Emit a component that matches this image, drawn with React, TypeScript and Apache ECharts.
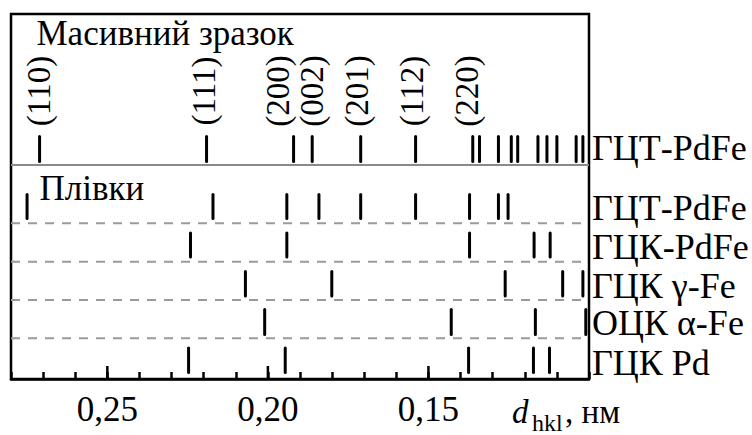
import React, { useEffect, useRef } from 'react';
import * as echarts from 'echarts';

// ---------- data ----------
const rowLabels = ['ГЦТ-PdFe', 'ГЦТ-PdFe', 'ГЦК-PdFe', 'ГЦК γ-Fe', 'ОЦК α-Fe', 'ГЦК Pd'];

// d_hkl, nm
const bulkFctPdFe = [0.2711, 0.2191, 0.192, 0.1862, 0.1711, 0.154, 0.1362, 0.1341, 0.1282, 0.1242, 0.1222, 0.1159, 0.1131, 0.11, 0.104, 0.1019];
const filmFctPdFe = [0.275, 0.2171, 0.1941, 0.1841, 0.1711, 0.154, 0.1372, 0.1282, 0.1252];
const filmFccPdFe = [0.2241, 0.1941, 0.1372, 0.1171, 0.1121];
const fccGammaFe = [0.207, 0.1801, 0.1261, 0.1082, 0.1019];
const bccAlphaFe = [0.201, 0.1429, 0.1167, 0.101];
const fccPd = [0.2247, 0.1946, 0.1375, 0.1173, 0.1123];

const rowsData = [bulkFctPdFe, filmFctPdFe, filmFccPdFe, fccGammaFe, bccAlphaFe, fccPd];

const millerLabels = ['(110)', '(111)', '(200)', '(002)', '(201)', '(112)', '(220)'];
const tickLabelValues = [0.25, 0.2, 0.15];

const titleBulk = 'Масивний зразок';
const titleFilms = 'Плівки';

// ---------- layout ----------
const FONT = 'Liberation Serif';
const GRID = { left: 11, top: 14, width: 578, height: 365 };
const X_MIN = 0.1;
const X_MAX = 0.28;
// y axis in pixel units from the top of the plot
const ROW_BANDS: [number, number][] = [
  [122.5, 147.5],
  [180.5, 204.5],
  [219, 243],
  [257.5, 282],
  [295.5, 320.5],
  [334, 358.5],
];
const SOLID_DIVIDER = 151;
const DASHED_DIVIDERS = [209.3, 247.7, 286, 324.3];
const MILLER_Y = 77;
const MILLER_SHIFT = [-1, -3, -16, 0, -4, -4, -6];
const ROW_LABEL_BASELINE = [160, 220, 259, 298, 335, 375];
const MAJOR_TICK_LEN = 13;

export default function App() {
  const ref = useRef<HTMLDivElement>(null);

  useEffect(() => {
    if (!ref.current) return;
    const chart = echarts.init(ref.current, undefined, { renderer: 'svg' });

    const barSeries = rowsData.map((vals, rowIdx) => ({
      type: 'custom',
      name: rowLabels[rowIdx],
      z: 5,
      data: vals.map((d) => [d, rowIdx]),
      encode: { x: 0, y: 1 },
      renderItem: (params: any, api: any) => {
        const d = api.value(0);
        const band = ROW_BANDS[rowIdx];
        const p1 = api.coord([d, band[0]]);
        const p2 = api.coord([d, band[1]]);
        return {
          type: 'line',
          shape: { x1: p1[0], y1: p1[1], x2: p2[0], y2: p2[1] },
          style: { stroke: '#000', lineWidth: 3, lineCap: 'round' },
        };
      },
    }));

    const dividerSeries = {
      type: 'custom',
      name: 'dividers',
      z: 2,
      data: [SOLID_DIVIDER, ...DASHED_DIVIDERS].map((y, i) => [X_MIN, y, i]),
      encode: { x: 0, y: 1 },
      renderItem: (params: any, api: any) => {
        const y = api.value(1);
        const i = api.value(2);
        const p1 = api.coord([X_MAX, y]);
        const p2 = api.coord([X_MIN, y]);
        return {
          type: 'line',
          shape: { x1: p1[0], y1: p1[1], x2: p2[0], y2: p2[1] },
          style: {
            stroke: i === 0 ? '#8a8a8a' : '#9a9a9a',
            lineWidth: 2,
            lineDash: i === 0 ? null : [9, 8],
          },
        };
      },
    };

    // taller ticks at the labelled values
    const majorTickSeries = {
      type: 'custom',
      name: 'majorTicks',
      z: 7,
      data: tickLabelValues.map((v) => [v, GRID.height]),
      encode: { x: 0, y: 1 },
      renderItem: (params: any, api: any) => {
        const p = api.coord([api.value(0), api.value(1)]);
        return {
          type: 'line',
          shape: { x1: p[0], y1: p[1], x2: p[0], y2: p[1] - MAJOR_TICK_LEN },
          style: { stroke: '#000', lineWidth: 2.5 },
        };
      },
    };

    const millerSeries = {
      type: 'custom',
      name: 'miller',
      z: 6,
      data: millerLabels.map((t, i) => [bulkFctPdFe[i], MILLER_Y, i]),
      encode: { x: 0, y: 1 },
      renderItem: (params: any, api: any) => {
        const i = api.value(2);
        const p = api.coord([api.value(0), api.value(1)]);
        return {
          type: 'text',
          x: p[0] + MILLER_SHIFT[i],
          y: p[1],
          rotation: Math.PI / 2,
          style: {
            text: millerLabels[i],
            fill: '#000',
            fontSize: 33,
            fontFamily: FONT,
            align: 'center',
            verticalAlign: 'middle',
          },
        };
      },
    };

    const txt = (text: string, x: number, baseline: number, size: number, extra: any = {}) => ({
      type: 'text',
      x,
      y: baseline - size * 0.3375,
      silent: true,
      style: {
        text,
        fill: '#000',
        fontSize: size,
        fontFamily: FONT,
        align: 'left',
        verticalAlign: 'middle',
        ...extra,
      },
    });

    const graphics: any[] = [
      txt(titleBulk, 36.5, 45, 35),
      txt(titleFilms, 39.5, 200, 35),
      ...rowLabels.map((t, i) => txt(t, 592, ROW_LABEL_BASELINE[i], 36)),
      txt('d', 512, 423, 33, { fontStyle: 'italic' }),
      txt('hkl', 532, 431, 24),
      txt(', нм', 565, 423, 33),
    ];

    const isTickLabel = (v: number) => tickLabelValues.some((t) => Math.abs(t - v) < 1e-6);

    chart.setOption({
      animation: false,
      backgroundColor: '#fff',
      textStyle: { fontFamily: FONT },
      grid: {
        ...GRID,
        show: true,
        borderColor: '#000',
        borderWidth: 2.5,
        backgroundColor: 'transparent',
      },
      xAxis: {
        type: 'value',
        min: X_MIN,
        max: X_MAX,
        interval: 0.01,
        inverse: true,
        position: 'bottom',
        axisLine: { show: true, onZero: false, lineStyle: { color: '#000', width: 2.5 } },
        axisTick: { show: true, inside: true, length: 7, lineStyle: { color: '#000', width: 2.5 } },
        axisLabel: {
          show: true,
          interval: 0,
          hideOverlap: false,
          margin: 13,
          color: '#000',
          fontSize: 35,
          fontFamily: FONT,
          formatter: (v: number) => (isTickLabel(v) ? v.toFixed(2).replace('.', ',') : ''),
        },
        splitLine: { show: false },
      },
      yAxis: {
        type: 'value',
        min: 0,
        max: GRID.height,
        inverse: true,
        show: false,
      },
      series: [dividerSeries, ...barSeries, majorTickSeries, millerSeries],
      graphic: graphics,
    });

    return () => {
      chart.dispose();
    };
  }, []);

  return (
    <div
      ref={ref}
      style={{ position: 'absolute', left: 0, top: 0, width: 752, height: 435, background: '#fff' }}
    />
  );
}
